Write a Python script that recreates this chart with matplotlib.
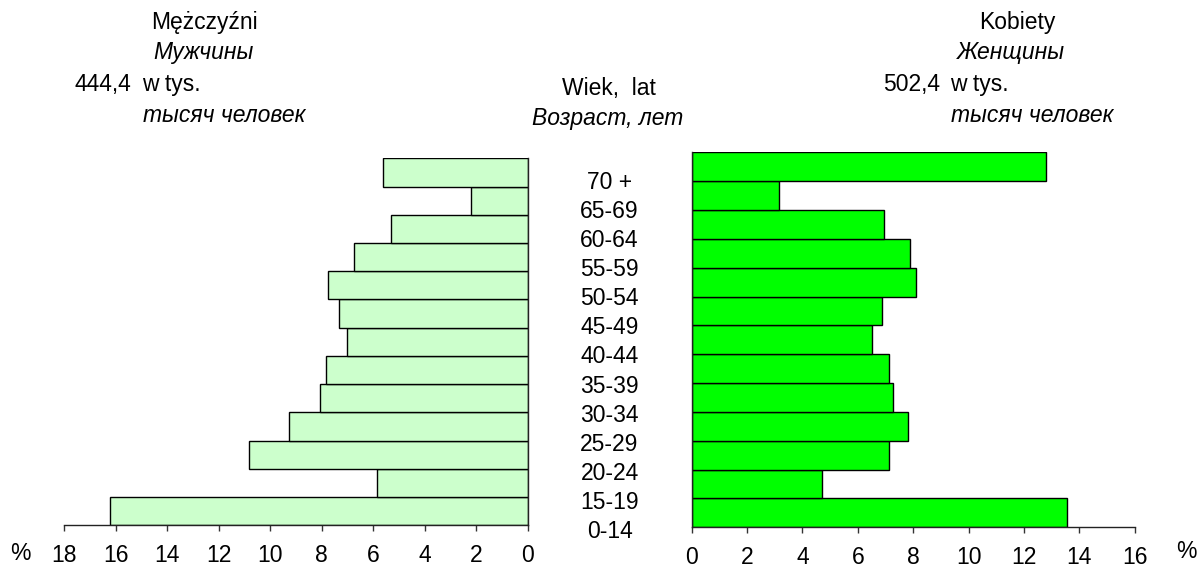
import matplotlib.pyplot as plt

plt.rcParams['font.family'] = ['Liberation Sans', 'DejaVu Sans']

# age groups, bottom to top
age_groups = ["0-14", "15-19", "20-24", "25-29", "30-34", "35-39", "40-44",
              "45-49", "50-54", "55-59", "60-64", "65-69", "70 +"]
men_pct = [16.22, 5.85, 10.84, 9.29, 8.07, 7.82, 7.01,
           7.33, 7.75, 6.76, 5.30, 2.19, 5.62]
women_pct = [13.56, 4.69, 7.12, 7.80, 7.28, 7.11, 6.51,
             6.88, 8.11, 7.87, 6.95, 3.16, 12.80]
men_ticks = [0, 2, 4, 6, 8, 10, 12, 14, 16, 18]
women_ticks = [0, 2, 4, 6, 8, 10, 12, 14, 16]

FS = 16.5


def main():
    fig = plt.figure(figsize=(11.97, 5.68), dpi=100)

    # left panel - men
    ax_m = fig.add_axes([0.05372, 0.0752, 0.38713, 0.6461])
    ax_m.barh(range(len(age_groups)), men_pct, height=1.0,
              color="#CCFFCC", edgecolor="black", linewidth=1)
    ax_m.set_xlim(18, 0)
    ax_m.set_ylim(-0.5, len(age_groups) - 0.5)
    ax_m.set_xticks(men_ticks)
    ax_m.set_yticks([])
    for s in ["top", "left"]:
        ax_m.spines[s].set_visible(False)

    # right panel - women
    ax_w = fig.add_axes([0.57786, 0.07165, 0.37009, 0.6599])
    ax_w.barh(range(len(age_groups)), women_pct, height=1.0,
              color="#00FF00", edgecolor="black", linewidth=1)
    ax_w.set_xlim(0, 16)
    ax_w.set_ylim(-0.5, len(age_groups) - 0.5)
    ax_w.set_xticks(women_ticks)
    ax_w.set_yticks([])
    for s in ["top", "right"]:
        ax_w.spines[s].set_visible(False)

    for ax in (ax_m, ax_w):
        ax.tick_params(axis="x", direction="out", length=4, width=1,
                       color="#333333", pad=9.5, labelsize=FS)
        for s in ax.spines.values():
            s.set_linewidth(1)
            s.set_color("#222222")

    # middle column with age labels
    ax_c = fig.add_axes([0.4592, 0.03865, 0.1, 0.666])
    ax_c.set_xlim(0, 1)
    ax_c.set_ylim(-0.5, len(age_groups) - 0.5)
    ax_c.axis("off")
    for i, lab in enumerate(age_groups):
        ax_c.text(0.5, i, lab, ha="center", va="center", fontsize=FS)

    # headers
    fig.text(204 / 1197, 1 - 23 / 568, "Mężczyźni", ha="center", va="center", fontsize=FS)
    fig.text(203 / 1197, 1 - 53 / 568, "Мужчины", ha="center", va="center",
             fontsize=FS, style="italic")
    fig.text(131 / 1197, 1 - 84 / 568, "444,4", ha="right", va="center", fontsize=FS)
    fig.text(142 / 1197, 1 - 84 / 568, "w tys.", ha="left", va="center", fontsize=FS)
    fig.text(143 / 1197, 1 - 115 / 568, "тысяч человек", ha="left", va="center",
             fontsize=FS, style="italic")

    fig.text(1017 / 1197, 1 - 23 / 568, "Kobiety", ha="center", va="center", fontsize=FS)
    fig.text(1011 / 1197, 1 - 53 / 568, "Женщины", ha="center", va="center",
             fontsize=FS, style="italic")
    fig.text(940 / 1197, 1 - 84 / 568, "502,4", ha="right", va="center", fontsize=FS)
    fig.text(950 / 1197, 1 - 84 / 568, "w tys.", ha="left", va="center", fontsize=FS)
    fig.text(951 / 1197, 1 - 115 / 568, "тысяч человек", ha="left", va="center",
             fontsize=FS, style="italic")

    fig.text(609 / 1197, 1 - 88 / 568, "Wiek,  lat", ha="center", va="center", fontsize=FS)
    fig.text(608 / 1197, 1 - 119 / 568, "Возраст, лет", ha="center", va="center",
             fontsize=FS, style="italic")

    fig.text(20.5 / 1197, 1 - 553 / 568, "%", ha="center", va="center", fontsize=FS)
    fig.text(1186 / 1197, 1 - 552 / 568, "%", ha="center", va="center", fontsize=FS)

    fig.savefig("out.png", dpi=100)


if __name__ == '__main__':
    main()
